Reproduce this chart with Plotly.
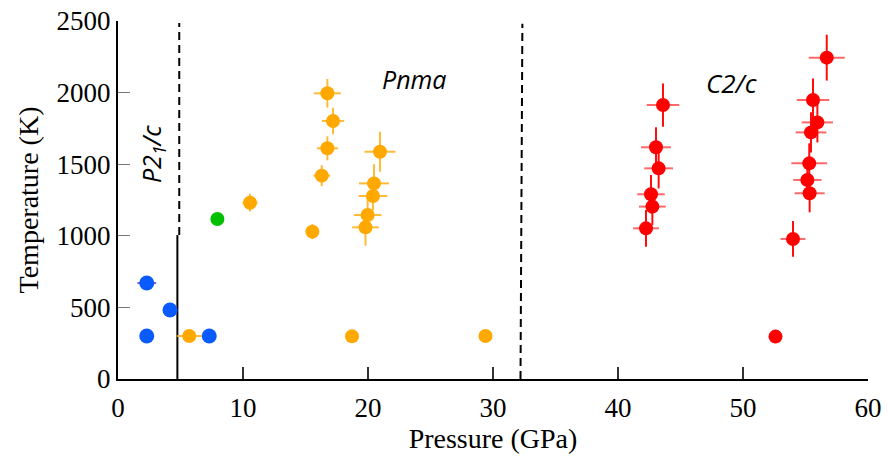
import plotly.graph_objects as go

# ---- data (Pressure GPa, Temperature K) ----
blue_p = [2.3, 2.3, 4.16, 7.3]
blue_t = [670, 300, 482, 300]
blue_xerr = [0.75, 0, 0, 0]

green_p = [7.95]
green_t = [1117]

orange_p = [5.7, 10.56, 15.55, 16.3, 16.75, 17.2, 16.75, 18.72, 19.8, 19.97, 20.4, 20.48, 20.96, 29.4]
orange_t = [300, 1231, 1029, 1420, 1611, 1802, 1995, 298, 1059, 1145, 1278, 1366, 1587, 300]
orange_xerr = [1.0, 0.6, 0.2, 0.67, 0.84, 0.9, 1.08, 0, 1.07, 1.1, 1.15, 1.2, 1.24, 0]
orange_yerr = [0, 62, 52, 73, 84, 92, 100, 0, 128, 128, 100, 133, 140, 0]

red_p = [42.24, 42.75, 42.64, 43.25, 43.04, 43.6, 52.6, 54.0, 55.33, 55.15, 55.3, 55.44, 55.95, 55.6, 56.7]
red_t = [1052, 1204, 1290, 1471, 1618, 1913, 296, 978, 1297, 1390, 1506, 1722, 1792, 1948, 2244]
red_xerr = [1.03, 1.07, 1.1, 1.15, 1.2, 1.3, 0, 1.0, 1.2, 1.13, 1.43, 1.23, 1.25, 1.3, 1.44]
red_yerr = [128, 130, 135, 140, 140, 151, 0, 125, 133, 135, 140, 140, 140, 150, 160]

# phase boundaries
solid_p = [4.75, 4.75]
solid_t = [0, 1005]
dash1_p = [4.9, 4.9]
dash1_t = [1005, 2486]
dash2_p = [32.2, 32.35]
dash2_t = [0, 2480]

x_ticks = [0, 10, 20, 30, 40, 50, 60]
y_ticks = [0, 500, 1000, 1500, 2000, 2500]

fig = go.Figure()

fig.add_trace(go.Scatter(x=solid_p, y=solid_t, mode="lines",
                         line=dict(color="black", width=2), hoverinfo="skip"))
fig.add_trace(go.Scatter(x=dash1_p, y=dash1_t, mode="lines",
                         line=dict(color="black", width=2, dash="8px,5px"), hoverinfo="skip"))
fig.add_trace(go.Scatter(x=dash2_p, y=dash2_t, mode="lines",
                         line=dict(color="black", width=2, dash="8px,5px"), hoverinfo="skip"))

fig.add_trace(go.Scatter(
    x=orange_p, y=orange_t, mode="markers",
    marker=dict(color="#FFA800", size=14),
    error_x=dict(type="data", array=orange_xerr, color="rgba(255,175,20,0.85)", thickness=2, width=0),
    error_y=dict(type="data", array=orange_yerr, color="rgba(255,175,20,0.85)", thickness=2, width=0),
))
fig.add_trace(go.Scatter(
    x=red_p, y=red_t, mode="markers",
    marker=dict(color="#FF0000", size=14),
    error_x=dict(type="data", array=red_xerr, color="rgba(255,40,40,0.7)", thickness=2, width=0),
    error_y=dict(type="data", array=red_yerr, color="rgba(255,0,0,0.95)", thickness=2, width=0),
))
fig.add_trace(go.Scatter(
    x=blue_p, y=blue_t, mode="markers",
    marker=dict(color="#0A5BFF", size=15),
    error_x=dict(type="data", array=blue_xerr, color="rgba(100,80,220,0.9)", thickness=2, width=0),
))
fig.add_trace(go.Scatter(
    x=green_p, y=green_t, mode="markers",
    marker=dict(color="#00C000", size=14),
))

serif = "Liberation Serif"
fig.update_layout(
    width=888, height=463,
    margin=dict(l=118, r=20, t=21, b=84),
    paper_bgcolor="white", plot_bgcolor="white",
    showlegend=False,
    font=dict(family=serif, size=27, color="black"),
    xaxis=dict(
        range=[0, 60], tickvals=x_ticks, ticks="inside", ticklen=12, tickwidth=1.5,
        tickcolor="#333", showline=True, linecolor="black", linewidth=2,
        showgrid=False, zeroline=False, mirror=False,
        tickfont=dict(family=serif, size=27), ticklabelstandoff=4,
        title=dict(text="Pressure (GPa)", font=dict(family=serif, size=28), standoff=4),
        automargin=False,
    ),
    yaxis=dict(
        range=[0, 2500], tickvals=y_ticks, ticks="inside", ticklen=12, tickwidth=1,
        tickcolor="#777", showline=True, linecolor="black", linewidth=2,
        showgrid=False, zeroline=False, mirror=False,
        tickfont=dict(family=serif, size=27),
        title=dict(text="Temperature (K)", font=dict(family=serif, size=28), standoff=10),
        automargin=False,
    ),
    annotations=[
        dict(x=2.72, y=1571, xref="x", yref="y", text="<i>P2<sub>1</sub>/c</i>", showarrow=False,
             textangle=-90, font=dict(family="Open Sans", size=25, color="black")),
        dict(x=23.7, y=2095, xref="x", yref="y", text="<i>Pnma</i>", showarrow=False,
             font=dict(family="Open Sans", size=25, color="black")),
        dict(x=49.04, y=2067, xref="x", yref="y", text="<i>C2/c</i>", showarrow=False,
             font=dict(family="Open Sans", size=26, color="black")),
    ],
)

fig.write_html("out.html")
